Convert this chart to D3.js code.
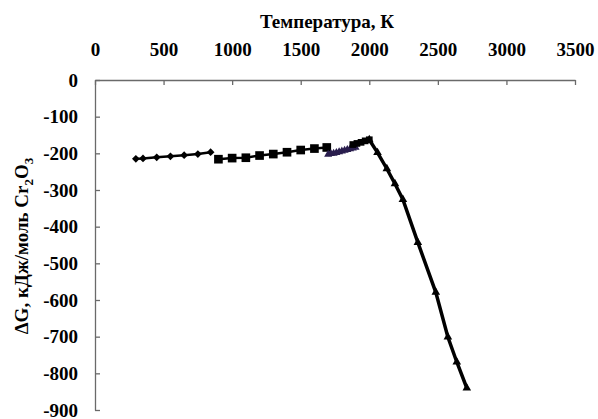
<!DOCTYPE html>
<html>
<head>
<meta charset="utf-8">
<script src="https://cdn.jsdelivr.net/npm/d3@7"></script>
<style>
  body { margin: 0; background: #fff; }
  svg text { font-family: "Liberation Serif", "Times New Roman", serif; font-weight: bold; fill: #000; }
</style>
</head>
<body>
<svg id="chart" width="598" height="419"></svg>
<script>
'use strict';

// x ticks / y ticks
const xTicks = [0, 500, 1000, 1500, 2000, 2500, 3000, 3500];
const yTicks = [0, -100, -200, -300, -400, -500, -600, -700, -800, -900];

// diamonds
const diamondT = [298, 350, 450, 550, 650, 750, 843];
const diamondG = [-215, -214, -211, -208, -205, -202, -197];

// big squares
const squareT = [900, 1000, 1100, 1200, 1300, 1400, 1500, 1600, 1690];
const squareG = [-216, -213, -212, -206, -202, -197, -191, -187, -184];

// small dense triangles
const triT = [1700, 1720, 1740, 1760, 1780, 1800, 1820, 1840, 1860, 1880, 1900];
const triG = [-203, -201, -200, -198, -196, -194, -192, -190, -188, -186, -184];

// small squares up to the peak
const smallSqT = [1880, 1910, 1940, 1970, 2000];
const smallSqG = [-176, -173, -170, -166, -163];

// falling branch
const fallT = [2000, 2060, 2128, 2187, 2245, 2354, 2485, 2573, 2638, 2711];
const fallG = [-163, -198, -242, -283, -326, -443, -579, -701, -769, -840];

const svg = d3.select('#chart');

const x = d3.scaleLinear().domain([0, 3500]).range([95, 575]);
const y = d3.scaleLinear().domain([-900, 0]).range([410, 80]);

const zip = (ts, gs) => ts.map((t, i) => ({ t: t, g: gs[i] }));
const plain = d => String(d); // hyphen minus, no thousands comma

// axes
const xAxis = svg.append('g')
  .attr('transform', 'translate(0,' + y(0) + ')')
  .call(d3.axisTop(x).tickValues(xTicks).tickFormat(plain).tickSize(-5).tickSizeOuter(0).tickPadding(24));

const yAxis = svg.append('g')
  .attr('transform', 'translate(' + x(0) + ',0)')
  .call(d3.axisLeft(y).tickValues(yTicks).tickFormat(plain).tickSize(-5).tickSizeOuter(0).tickPadding(17));

[xAxis, yAxis].forEach(a => {
  a.selectAll('path, line').attr('stroke', '#6a6a6a').attr('stroke-width', 1.3);
  a.selectAll('text').attr('font-size', 19).attr('fill', '#000');
});

// titles
svg.append('text')
  .attr('x', 327)
  .attr('y', 28)
  .attr('text-anchor', 'middle')
  .attr('font-size', 19)
  .text('Температура, К');

const yTitle = svg.append('text')
  .attr('transform', 'translate(28,246) rotate(-90)')
  .attr('text-anchor', 'middle')
  .attr('font-size', 19);
yTitle.append('tspan').text('ΔG, кДж/моль Cr');
yTitle.append('tspan').attr('font-size', 13).attr('dy', 5).text('2');
yTitle.append('tspan').attr('dy', -5).text('O');
yTitle.append('tspan').attr('font-size', 13).attr('dy', 5).text('3');

const line = d3.line().x(d => x(d.t)).y(d => y(d.g));

function drawSeries(data, opts) {
  svg.append('path')
    .datum(data)
    .attr('d', line)
    .attr('fill', 'none')
    .attr('stroke', opts.color)
    .attr('stroke-width', opts.width);
  svg.append('g')
    .selectAll('path')
    .data(data)
    .join('path')
    .attr('transform', d => 'translate(' + x(d.t) + ',' + y(d.g) + ')' + (opts.rotate ? ' rotate(45)' : ''))
    .attr('d', d3.symbol().type(opts.symbol).size(opts.size))
    .attr('fill', opts.color);
}

drawSeries(zip(diamondT, diamondG), { symbol: d3.symbolSquare, size: 30, rotate: true, color: '#000', width: 2.5 });
drawSeries(zip(squareT, squareG), { symbol: d3.symbolSquare, size: 75, color: '#000', width: 2.5 });
drawSeries(zip(triT, triG), { symbol: d3.symbolTriangle, size: 28, color: '#2a1e4e', width: 4 });
drawSeries(zip(smallSqT, smallSqG), { symbol: d3.symbolSquare, size: 45, color: '#000', width: 3.5 });
drawSeries(zip(fallT, fallG), { symbol: d3.symbolTriangle, size: 32, color: '#000', width: 3.5 });
</script>
</body>
</html>
